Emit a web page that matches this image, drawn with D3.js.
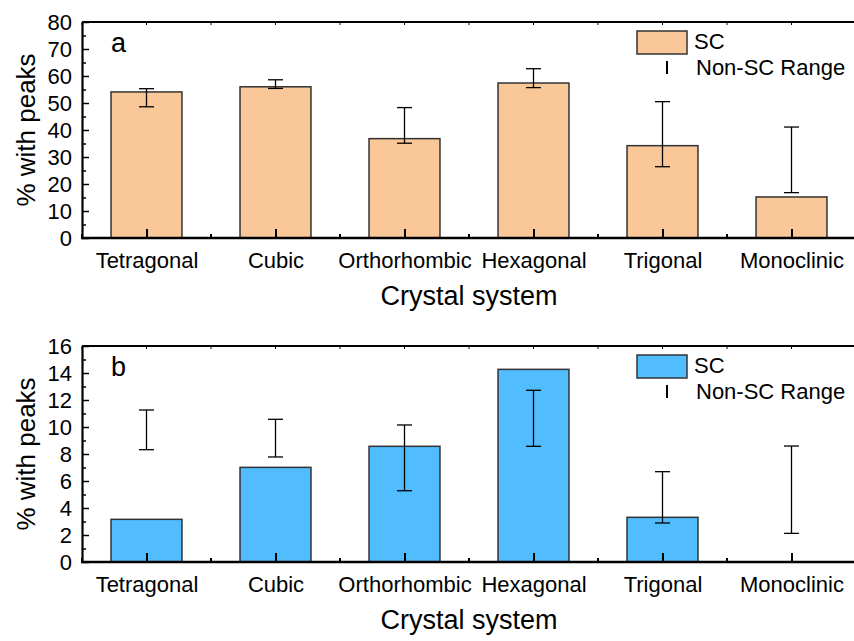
<!DOCTYPE html>
<html>
<head>
<meta charset="utf-8">
<script src="https://cdn.jsdelivr.net/npm/d3@7"></script>
<style>
  body { margin: 0; background: #fff; }
  text { font-family: "Liberation Sans", Arial, sans-serif; fill: #000; }
</style>
</head>
<body>
<div id="chart-area"></div>
<script>
// values
let categories = ["Tetragonal", "Cubic", "Orthorhombic", "Hexagonal", "Trigonal", "Monoclinic"]

let scA = [54.1, 56.0, 36.8, 57.4, 34.2, 15.2]
let lowA = [48.6, 55.4, 35.1, 55.7, 26.4, 16.8]
let highA = [55.3, 58.6, 48.3, 62.7, 50.5, 41.1]
let ticksA = [0, 10, 20, 30, 40, 50, 60, 70, 80]

let scB = [3.16, 7.01, 8.57, 14.27, 3.31, 0]
let lowB = [8.32, 7.78, 5.28, 8.57, 2.89, 2.12]
let highB = [11.26, 10.57, 10.15, 12.72, 6.69, 8.59]
let ticksB = [0, 2, 4, 6, 8, 10, 12, 14, 16]

let width = 854
let height = 641
let left = 82, right = 856, plotH = 216

let svg = d3.select("#chart-area")
  .append("svg")
    .attr("width", width)
    .attr("height", height)

function panel(top, letter, sc, low, high, ticks, step, color) {
  let g = svg.append("g").attr("transform", "translate(0, " + top + ")")

  let x = d3.scaleBand().domain(categories).range([left, right]).padding(0)
  let bw = x.bandwidth()
  let barW = bw * 0.55
  let cx = d => x(d) + bw / 2
  let ymax = ticks[ticks.length - 1]
  let y = d3.scaleLinear().domain([0, ymax]).range([plotH, 0])

  let data = categories.map((c, i) => ({name: c, v: sc[i], lo: low[i], hi: high[i]}))

  // bars
  g.selectAll("rect.bar").data(data.filter(d => d.v > 0))
    .enter().append("rect")
      .attr("class", "bar")
      .attr("x", d => cx(d.name) - barW / 2)
      .attr("y", d => y(d.v))
      .attr("width", barW)
      .attr("height", d => plotH - y(d.v))
      .attr("fill", color)
      .attr("stroke", "#333")
      .attr("stroke-width", 1.5)

  // non-SC range bars
  let eb = g.selectAll("g.err").data(data).enter().append("g").attr("class", "err")
    .attr("stroke", "#000").attr("stroke-width", 1.3)
  eb.append("line")
    .attr("x1", d => cx(d.name)).attr("x2", d => cx(d.name))
    .attr("y1", d => y(d.lo)).attr("y2", d => y(d.hi))
  eb.append("line")
    .attr("x1", d => cx(d.name) - 7.5).attr("x2", d => cx(d.name) + 7.5)
    .attr("y1", d => y(d.hi)).attr("y2", d => y(d.hi))
  eb.append("line")
    .attr("x1", d => cx(d.name) - 7.5).attr("x2", d => cx(d.name) + 7.5)
    .attr("y1", d => y(d.lo)).attr("y2", d => y(d.lo))

  // top border with small ticks
  g.append("line")
    .attr("x1", left).attr("x2", right).attr("y1", 0).attr("y2", 0)
    .attr("stroke", "#000").attr("stroke-width", 1.8)
  let topTicks = categories.map(cx).concat(categories.map(c => x(c)))
  g.selectAll("line.tt").data(topTicks).enter().append("line")
    .attr("class", "tt")
    .attr("x1", d => d).attr("x2", d => d).attr("y1", 0).attr("y2", 3)
    .attr("stroke", "#000").attr("stroke-width", 1)

  // y axis
  let yMinor = d3.axisLeft(y).tickValues(d3.range(step / 2, ymax, step)).tickSize(-4).tickFormat("")
  g.append("g").attr("transform", "translate(" + left + ",0)").call(yMinor)
    .call(a => a.select(".domain").remove())
    .selectAll("line").attr("stroke-width", 1.5)
  let yAxis = d3.axisLeft(y).tickValues(ticks).tickSize(-7).tickSizeOuter(0).tickPadding(10)
  let ya = g.append("g").attr("transform", "translate(" + left + ",0)").call(yAxis)
  ya.select(".domain").attr("stroke-width", 2.2)
  ya.selectAll("line").attr("stroke-width", 1.5)
  ya.selectAll("text").attr("font-size", "22px")

  // x axis
  let xMinor = d3.axisBottom(x).tickSize(-4).tickFormat("")
  g.append("g").attr("transform", "translate(0," + plotH + ")").call(xMinor)
    .call(a => a.select(".domain").remove())
    .selectAll(".tick").attr("transform", d => "translate(" + x(d) + ",0)")
    .select("line").attr("stroke-width", 2)
  let xp = d3.scalePoint().domain(categories).range([left + bw / 2, right - bw / 2])
  let xAxis = d3.axisBottom(xp).tickSize(-9).tickSizeOuter(0).tickPadding(14.5)
  let xa = g.append("g").attr("transform", "translate(0," + plotH + ")").call(xAxis)
  xa.select(".domain").attr("d", "M" + (left - 1) + ",0H" + right).attr("stroke-width", 2.6)
  xa.selectAll("line").attr("stroke-width", 2)
  xa.selectAll("text").attr("font-size", "22px")

  // axis titles
  g.append("text")
    .attr("x", (left + right) / 2)
    .attr("y", plotH + 67)
    .attr("font-size", "27px")
    .attr("text-anchor", "middle")
    .text("Crystal system")
  g.append("text")
    .attr("transform", "translate(35," + (plotH / 2) + ") rotate(-90)")
    .attr("font-size", "26px")
    .attr("text-anchor", "middle")
    .text("% with peaks")

  // panel letter
  g.append("text")
    .attr("x", 111).attr("y", 30)
    .attr("font-size", "27px")
    .text(letter)

  // legend
  g.append("rect")
    .attr("x", 637).attr("y", 9).attr("width", 50).attr("height", 23)
    .attr("fill", color).attr("stroke", "#333").attr("stroke-width", 1.5)
  g.append("text").attr("x", 694).attr("y", 27).attr("font-size", "22px").text("SC")
  g.append("line")
    .attr("x1", 667).attr("x2", 667).attr("y1", 39).attr("y2", 52)
    .attr("stroke", "#000").attr("stroke-width", 2)
  g.append("text").attr("x", 696).attr("y", 53).attr("font-size", "22px").text("Non-SC Range")
}

panel(22, "a", scA, lowA, highA, ticksA, 10, "#fac898")
panel(346, "b", scB, lowB, highB, ticksB, 2, "#51bcfe")
</script>
</body>
</html>
